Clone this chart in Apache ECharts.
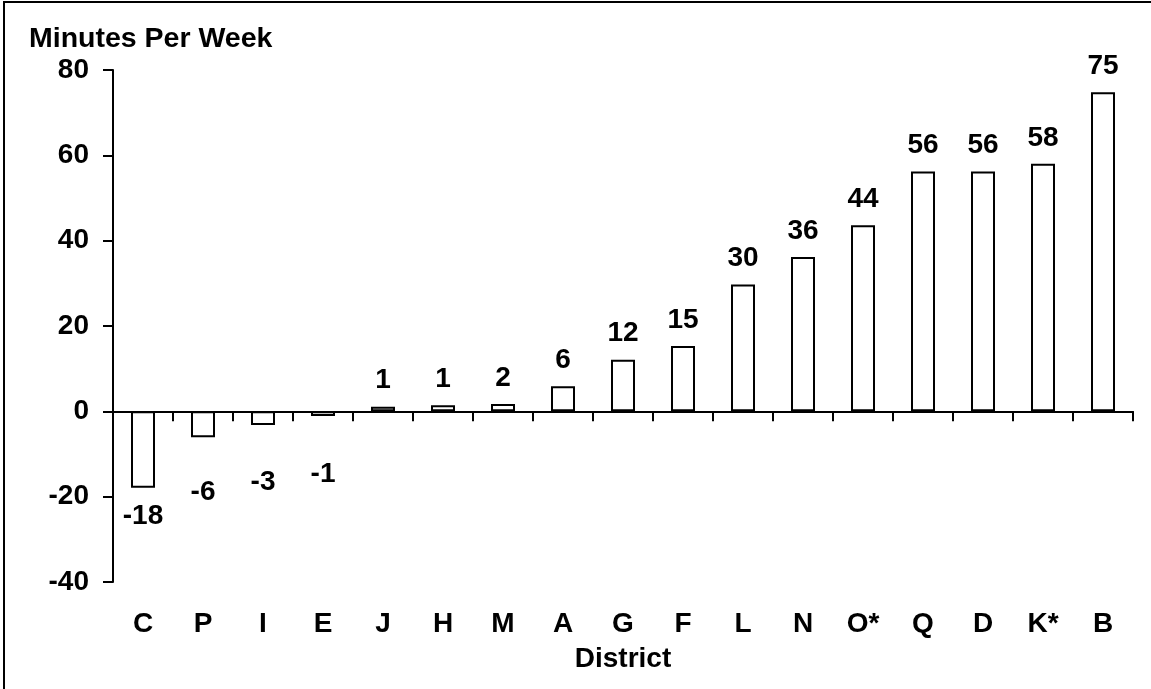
<!DOCTYPE html>
<html>
<head>
<meta charset="utf-8">
<script src="https://cdn.jsdelivr.net/npm/echarts@6/dist/echarts.min.js"></script>
<style>
  html, body { margin: 0; padding: 0; background: #fff; }
  #chart { width: 1151px; height: 689px; }
</style>
</head>
<body>
<div id="chart"></div>
<script>
// districts, sorted as in the figure
var districts = ['C', 'P', 'I', 'E', 'J', 'H', 'M', 'A', 'G', 'F', 'L', 'N', 'O*', 'Q', 'D', 'K*', 'B'];
// change in minutes per week
var minutes = [-17.9, -6.1, -3.2, -1.1, 1.1, 1.4, 1.7, 5.9, 12.1, 15.3, 29.7, 36.2, 43.6, 56.2, 56.2, 58, 74.8];
var yTicks = { min: -40, max: 80, step: 20 };

var font = 'Liberation Sans, Arial, sans-serif';
// negative labels sit a bit lower in the original, hand placed
var negGap = { 0: 15, 1: 41, 2: 43, 3: 44 };

var barData = [];
for (var i = 0; i < minutes.length; i++) {
    var v = minutes[i];
    barData.push({
        value: v,
        label: v < 0 ? { position: 'bottom', distance: negGap[i] || 15 } : { position: 'top', distance: 12 }
    });
}

var chart = echarts.init(document.getElementById('chart'));

var option = {
    backgroundColor: '#fff',
    animation: false,
    title: {
        text: 'Minutes Per Week',
        left: 24,
        top: 20,
        textStyle: { fontFamily: font, fontSize: 28.5, fontWeight: 'bold', color: '#000' }
    },
    graphic: [{
        type: 'rect',
        shape: { x: 4, y: 2, width: 1300, height: 900 },
        style: { fill: 'none', stroke: '#000', lineWidth: 2 }
    }],
    grid: { left: 113, right: 18, top: 70, bottom: 107 },
    xAxis: [{
        type: 'category',
        data: districts,
        axisLine: { onZero: true, lineStyle: { color: '#000', width: 2 } },
        axisTick: { show: true, inside: false, length: 10, lineStyle: { color: '#000', width: 2 } },
        axisLabel: { show: false }
    }, {
        type: 'category',
        data: districts,
        position: 'bottom',
        axisLine: { show: false },
        axisTick: { show: false },
        axisLabel: { margin: 28, fontFamily: font, fontSize: 28, fontWeight: 'bold', color: '#000' },
        name: 'District',
        nameLocation: 'middle',
        nameGap: 63,
        nameTextStyle: { fontFamily: font, fontSize: 28, fontWeight: 'bold', color: '#000' }
    }],
    yAxis: {
        type: 'value',
        min: yTicks.min,
        max: yTicks.max,
        interval: yTicks.step,
        axisLine: { show: true, lineStyle: { color: '#000', width: 2 } },
        axisTick: { show: true, length: 10, lineStyle: { color: '#000', width: 2 } },
        splitLine: { show: false },
        axisLabel: { margin: 24, fontFamily: font, fontSize: 28, fontWeight: 'bold', color: '#000' }
    },
    series: [{
        type: 'bar',
        xAxisIndex: 0,
        data: barData,
        barWidth: 24,
        itemStyle: { color: '#fff', borderColor: '#000', borderWidth: 2 },
        label: {
            show: true,
            fontFamily: font,
            fontSize: 28,
            fontWeight: 'bold',
            color: '#000',
            formatter: function (p) { return Math.round(p.value); }
        }
    }]
};

chart.setOption(option);
</script>
</body>
</html>
